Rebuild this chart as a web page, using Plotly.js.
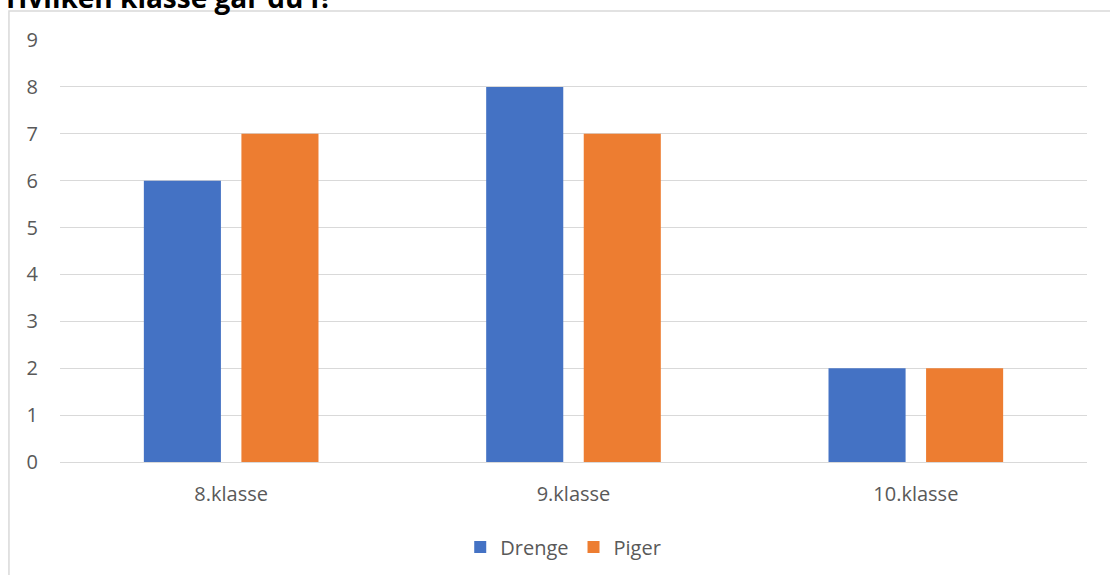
<!DOCTYPE html>
<html>
<head>
<meta charset="utf-8">
<script src="https://cdn.plot.ly/plotly-3.0.1.min.js"></script>
<style>
html,body{margin:0;padding:0;background:#fff;}
#chart{width:1110px;height:575px;}
</style>
</head>
<body>
<div id="chart"></div>
<script>
const categories = ["8.klasse", "9.klasse", "10.klasse"];
const drenge = [6, 8, 2];
const piger = [7, 7, 2];
const yTicks = [0, 1, 2, 3, 4, 5, 6, 7, 8, 9];
const chartTitle = "Hvilken klasse går du i?";

const font = {family: "Open Sans, sans-serif", size: 20, color: "#595959"};

const data = [
  {type: "bar", name: "Drenge", x: categories, y: drenge, marker: {color: "#4472C4"}},
  {type: "bar", name: "Piger", x: categories, y: piger, marker: {color: "#ED7D31"}}
];

const layout = {
  width: 1110, height: 575,
  margin: {l: 60, r: 23, t: 40, b: 113, autoexpand: false},
  paper_bgcolor: "#fff", plot_bgcolor: "#fff",
  font: font,
  showlegend: true,
  barmode: "group",
  bargap: 0.43,
  bargroupgap: 0.21,
  xaxis: {
    type: "category", automargin: false,
    showgrid: false, zeroline: false, showline: false,
    ticks: "", ticklabelstandoff: 18,
    tickfont: font
  },
  yaxis: {
    range: [0, 9], automargin: false,
    tickvals: yTicks,
    showgrid: true, gridcolor: "#d9d9d9", gridwidth: 1,
    zeroline: true, zerolinecolor: "#d9d9d9", zerolinewidth: 1,
    showline: false, ticks: "", ticklabelstandoff: 21,
    tickfont: font
  },
  legend: {
    orientation: "h", x: 0.49, xanchor: "center", y: -0.2014, yanchor: "middle",
    font: font, itemclick: false, itemwidth: 30
  },
  shapes: [{
    type: "rect", xref: "paper", yref: "paper",
    x0: -0.0497, x1: 1.06, y0: -0.35, y1: 1.0687,
    line: {color: "#d9d9d9", width: 1.5}, fillcolor: "rgba(0,0,0,0)", layer: "below"
  }],
  annotations: [{
    text: "<b>" + chartTitle + "</b>", xref: "paper", yref: "paper",
    x: -0.0545, y: 1.102, xanchor: "left", yanchor: "middle",
    showarrow: false, font: {family: "Open Sans, sans-serif", size: 28, color: "#000"}
  }]
};

Plotly.newPlot("chart", data, layout, {displayModeBar: false, staticPlot: true});
</script>
</body>
</html>
